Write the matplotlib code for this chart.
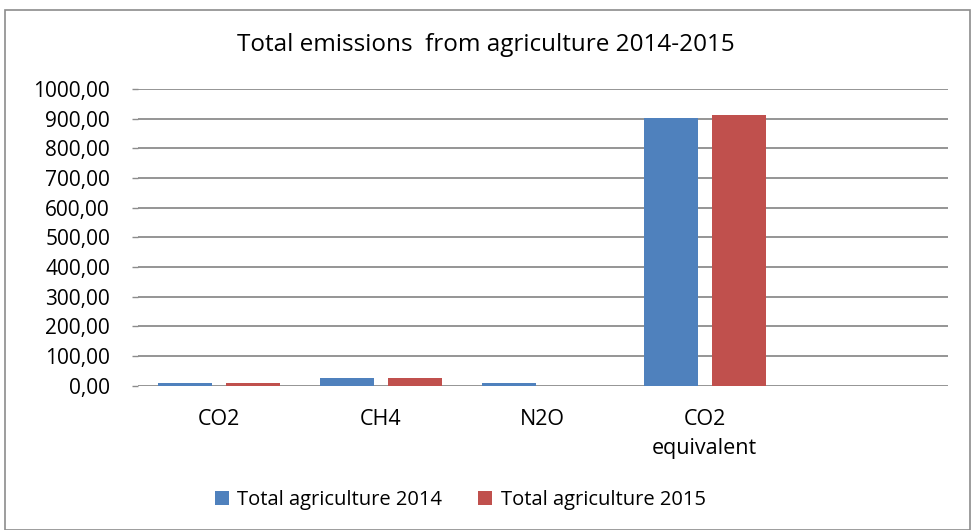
import numpy as np
import matplotlib.pyplot as plt
from matplotlib.patches import Rectangle

categories = ["CO2", "CH4", "N2O", "CO2\nequivalent", ""]
values_2014 = [9, 27, 9, 902, 0]
values_2015 = [9, 27, 0, 914, 0]
series_names = ["Total agriculture 2014", "Total agriculture 2015"]
yticks = np.arange(0, 1001, 100)


def main():
    plt.rcParams['font.family'] = ['Open Sans', 'DejaVu Sans']
    fig = plt.figure(figsize=(9.71, 5.30), dpi=100)
    ax = fig.add_axes([0.142, 0.272, 0.834, 0.56])

    x = np.arange(len(categories))
    w = 0.333
    gap = 0.086
    ax.bar(x - (w + gap) / 2, values_2014, w, color="#4F81BD", label=series_names[0], zorder=3)
    ax.bar(x + (w + gap) / 2, values_2015, w, color="#C0504D", label=series_names[1], zorder=3)

    ax.set_xlim(-0.5, len(categories) - 0.5)
    ax.set_ylim(0, 1000)
    ax.set_yticks(yticks)
    ax.set_yticklabels([f"{v:.2f}".replace(".", ",") for v in yticks], fontsize=15)
    ax.set_xticks(x)
    ax.set_xticklabels(categories, fontsize=15.5, linespacing=1.45)
    ax.tick_params(axis="x", length=0, pad=17)
    ax.tick_params(axis="y", length=4, width=1, color="#8c8c8c", pad=16)
    ax.yaxis.grid(True, color="#8c8c8c", linewidth=1.3, zorder=0)
    for s in ax.spines.values():
        s.set_visible(False)

    fig.text(0.5, 0.915, "Total emissions  from agriculture 2014-2015", ha="center", va="center", fontsize=17.5)

    fig.legend(loc="center", bbox_to_anchor=(0.474, 0.056), ncol=2, frameon=False,
               fontsize=14.5, handlelength=0.7, handleheight=0.7, handletextpad=0.4,
               columnspacing=1.8)

    fig.patches.append(Rectangle((0.005, 0.0), 0.994, 0.981, transform=fig.transFigure,
                                 fill=False, edgecolor="#8c8c8c", linewidth=1.2))

    plt.savefig("out.png")


if __name__ == "__main__":
    main()
